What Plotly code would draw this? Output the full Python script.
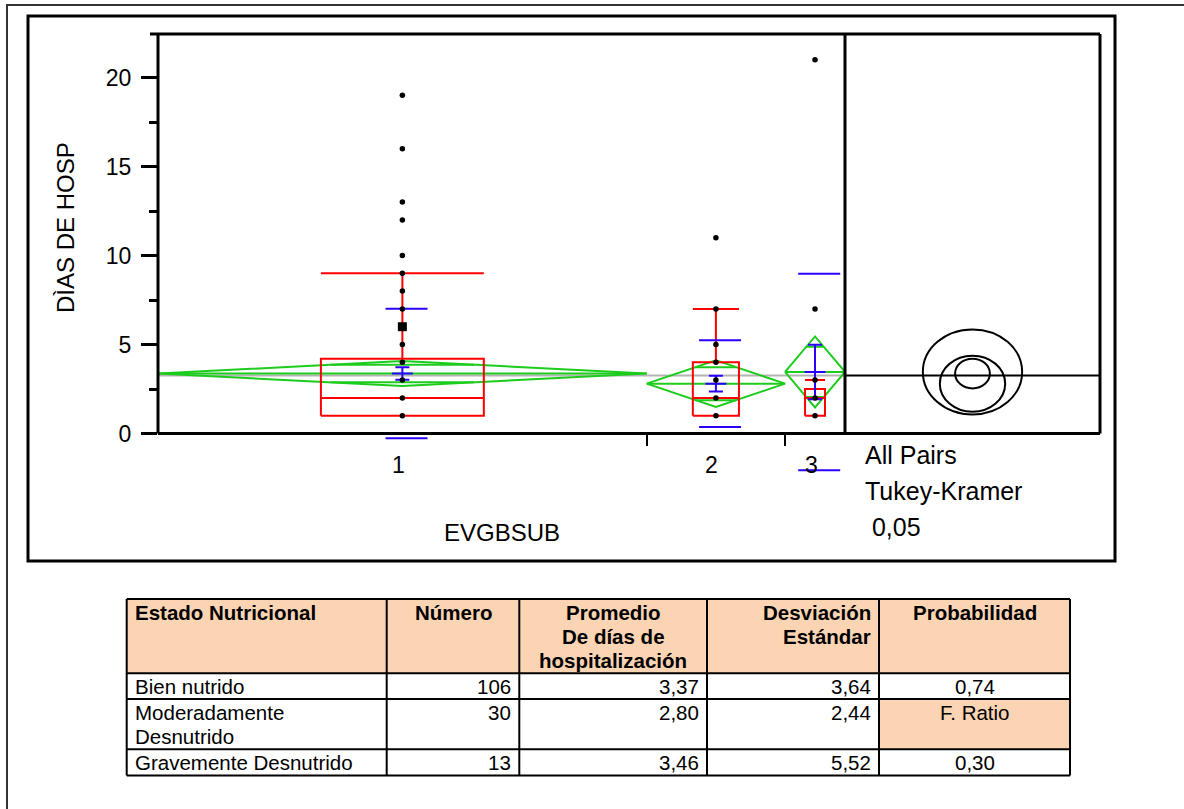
import math
import plotly.graph_objects as go

# ---------------- data ----------------
group_labels = ["1", "2", "3"]
group_n = [106, 30, 13]
group_mean = [3.37, 2.80, 3.46]
group_sd = [3.64, 2.44, 5.52]

points_g1 = [1, 2, 3, 4, 5, 6, 7, 8, 9, 10, 12, 13, 16, 19]
points_g2 = [1, 2, 3, 4, 5, 7, 11]
points_g3 = [1, 2, 3, 7, 21]
dense_value_g1 = [6]

box_q1 = [1.0, 1.0, 1.0]
box_median = [2.0, 2.0, 2.0]
box_q3 = [4.2, 4.0, 2.5]
whisker_hi = [9.0, 7.0, 3.0]

y_tick_vals = [0, 5, 10, 15, 20]
y_minor_vals = [2.5, 7.5, 12.5, 17.5]

x_title = "EVGBSUB"
y_title = "DÌAS DE HOSP"
alpha_text = ["All Pairs", "Tukey-Kramer", "\u00a00,05"]

t_crit = 1.976   # t(0.975, 146)
q_crit = 3.348   # Tukey studentized range q(0.05; 3, 146)

table_header = [["Estado Nutricional"], ["Número"],
                ["Promedio", "De días de", "hospitalización"],
                ["Desviación", "Estándar"], ["Probabilidad"]]
table_estado = [["Bien nutrido"], ["Moderadamente", "Desnutrido"], ["Gravemente Desnutrido"]]
table_numero = ["106", "30", "13"]
table_promedio = ["3,37", "2,80", "3,46"]
table_desv = ["3,64", "2,44", "5,52"]
table_prob = ["0,74", "F. Ratio", "0,30"]

# ---------------- derived statistics ----------------
N = sum(group_n)
starts, ends = [], []
acc = 0
for n in group_n:
    starts.append(acc)
    acc += n
    ends.append(acc)
centers = [(s + e) / 2 for s, e in zip(starts, ends)]
grand_mean = sum(n * m for n, m in zip(group_n, group_mean)) / N
dfree = N - len(group_n)
s_pooled = math.sqrt(sum((n - 1) * sd ** 2 for n, sd in zip(group_n, group_sd)) / dfree)
se_pooled = [s_pooled / math.sqrt(n) for n in group_n]
ci = [t_crit * se for se in se_pooled]
se_own = [sd / math.sqrt(n) for sd, n in zip(group_sd, group_n)]
r_circle = [q_crit / math.sqrt(2) * se for se in se_pooled]

# ---------------- layout constants ----------------
W, H = 1184, 809
PL, PR, PT, PB = 158, 845, 34, 433.5
PB_EXT = 495          # lower edge of the unclipped overlay axis (same scale)
PANEL_R = 1100
Y_UNIT = 17.8
Y_MAX = (PB - PT) / Y_UNIT
Y_EXT_MIN = -(PB_EXT - PB) / Y_UNIT
X2_UNIT = 20.8
X2_MAX = (PANEL_R - PR) / X2_UNIT
FONT = "Liberation Sans, Arial, sans-serif"
RED, GREEN, BLUE, GREY = "#ff0000", "#1ccc1c", "#2b00ff", "#b4b4b4"
PEACH = "#fbd4b4"
SD_SHIFT = 0.9   # blue SD marks drawn slightly right of the group centre


def px(x):
    return x / W


def py(y):
    return 1 - y / H


fig = go.Figure()

# grand mean line
fig.add_trace(go.Scatter(x=[0, N], y=[grand_mean, grand_mean], mode="lines",
                         line=dict(color=GREY, width=2), hoverinfo="skip"))

# means diamonds
gx, gy = [], []
for s, e, c, m, w in zip(starts, ends, centers, group_mean, ci):
    gx += [s, c, e, c, s, None, s, e, None]
    gy += [m, m + w, m, m - w, m, None, m, m, None]
    h = (1 - 1 / math.sqrt(2)) * (e - s) / 2
    for sign in (1, -1):
        gx += [c - h, c + h, None]
        gy += [m + sign * w / math.sqrt(2)] * 2 + [None]
fig.add_trace(go.Scatter(x=gx, y=gy, mode="lines", line=dict(color=GREEN, width=2),
                         hoverinfo="skip"))

# box plots
rx, ry = [], []
for s, e, c, q1, md, q3, wh in zip(starts, ends, centers, box_q1, box_median, box_q3, whisker_hi):
    b = (e - s) / 6
    rx += [c - b, c + b, c + b, c - b, c - b, None, c - b, c + b, None, c, c, None, c - b, c + b, None]
    ry += [q1, q1, q3, q3, q1, None, md, md, None, q3, wh, None, wh, wh, None]
fig.add_trace(go.Scatter(x=rx, y=ry, mode="lines", line=dict(color=RED, width=2),
                         hoverinfo="skip"))

# mean +- SE error bars
fig.add_trace(go.Scatter(x=centers, y=group_mean, mode="markers",
                         marker=dict(symbol="line-ew", size=15, color=BLUE,
                                     line=dict(color=BLUE, width=2)),
                         error_y=dict(type="data", array=se_own, color=BLUE, thickness=2, width=7),
                         hoverinfo="skip"))

# mean +- SD marks (on an overlay axis with identical scale that extends below the frame)
sd_x = [c + SD_SHIFT for c in centers]
fig.add_trace(go.Scatter(x=sd_x + sd_x,
                         y=[m + sd for m, sd in zip(group_mean, group_sd)] +
                           [m - sd for m, sd in zip(group_mean, group_sd)],
                         xaxis="x", yaxis="y3", mode="markers",
                         marker=dict(symbol="line-ew", size=30, color=BLUE,
                                     line=dict(color=BLUE, width=2)),
                         hoverinfo="skip"))

# data points
px_pts = [centers[0]] * len(points_g1) + [centers[1]] * len(points_g2) + [centers[2]] * len(points_g3)
py_pts = points_g1 + points_g2 + points_g3
fig.add_trace(go.Scatter(x=px_pts, y=py_pts, mode="markers", xaxis="x", yaxis="y3",
                         marker=dict(symbol="circle", size=5.5, color="black"), hoverinfo="skip"))
fig.add_trace(go.Scatter(x=[centers[0]] * len(dense_value_g1), y=dense_value_g1, mode="markers",
                         xaxis="x", yaxis="y3",
                         marker=dict(symbol="square", size=9, color="black"), hoverinfo="skip"))

# comparison circles panel
fig.add_trace(go.Scatter(x=[0, X2_MAX], y=[grand_mean, grand_mean], mode="lines",
                         xaxis="x2", yaxis="y", line=dict(color="black", width=2),
                         hoverinfo="skip"))

shapes = []
cx = X2_MAX / 2
for m, r in zip(group_mean, r_circle):
    shapes.append(dict(type="circle", xref="x2", yref="y", x0=cx - r, x1=cx + r,
                       y0=m - r, y1=m + r, line=dict(color="black", width=2)))


def pline(x0, y0, x1, y1, w=3, color="black"):
    shapes.append(dict(type="line", xref="paper", yref="paper", x0=px(x0), y0=py(y0),
                       x1=px(x1), y1=py(y1), line=dict(color=color, width=w)))


# outer frames
shapes.append(dict(type="rect", xref="paper", yref="paper", x0=px(7), y0=py(5), x1=px(1200),
                   y1=py(830), line=dict(color="#333333", width=2)))
shapes.append(dict(type="rect", xref="paper", yref="paper", x0=px(28), y0=py(16), x1=px(1115),
                   y1=py(561), line=dict(color="black", width=3)))
# plot frame
pline(150, PT, PANEL_R, PT)
pline(PL, PB, PANEL_R, PB)
pline(PL, PT, PL, PB)
pline(PR, PT, PR, PB)
pline(PANEL_R, PT, PANEL_R, PB)

# ---------------- table ----------------
col_x = [126.7, 386.7, 519.3, 707, 879, 1070]
row_y = [599, 673.3, 699, 749.3, 775.5]
shapes.append(dict(type="rect", xref="paper", yref="paper", x0=px(col_x[0]), x1=px(col_x[-1]),
                   y0=py(row_y[0]), y1=py(row_y[1]), fillcolor=PEACH, line=dict(width=0),
                   layer="below"))
shapes.append(dict(type="rect", xref="paper", yref="paper", x0=px(col_x[4]), x1=px(col_x[5]),
                   y0=py(row_y[2]), y1=py(row_y[3]), fillcolor=PEACH, line=dict(width=0),
                   layer="below"))
for yy in row_y:
    pline(col_x[0], yy, col_x[-1], yy, w=2)
for xx in col_x:
    pline(xx, row_y[0], xx, row_y[-1], w=2)

ann = []


def text(x, y, s, size=20, anchor="center", bold=False, xref="paper", xshift=0, angle=0):
    ann.append(dict(x=x if xref != "paper" else px(x), y=py(y), xref=xref, yref="paper",
                    text=("<b>%s</b>" % s) if bold else s, showarrow=False, xanchor=anchor,
                    yanchor="middle", xshift=xshift, textangle=angle,
                    font=dict(family=FONT, size=size, color="black")))


PAD = 6
LINE = 24
TS = 20.5
HY = 612
# header
for ln, s in enumerate(table_header[0]):
    text(col_x[0] + PAD, HY + ln * LINE, s, TS, "left", True)
for ln, s in enumerate(table_header[1]):
    text((col_x[1] + col_x[2]) / 2, HY + ln * LINE, s, TS, "center", True)
for ln, s in enumerate(table_header[2]):
    text((col_x[2] + col_x[3]) / 2, HY + ln * LINE, s, TS, "center", True)
for ln, s in enumerate(table_header[3]):
    text(col_x[4] - PAD, HY + ln * LINE, s, TS, "right", True)
for ln, s in enumerate(table_header[4]):
    text((col_x[4] + col_x[5]) / 2, HY + ln * LINE, s, TS, "center", True)
# body
row_first = [686, 712, 762.4]
for i in range(3):
    y0 = row_first[i]
    for ln, s in enumerate(table_estado[i]):
        text(col_x[0] + PAD, y0 + ln * LINE, s, TS, "left")
    text(col_x[2] - PAD, y0, table_numero[i], TS, "right")
    text(col_x[3] - PAD, y0, table_promedio[i], TS, "right")
    text(col_x[4] - PAD, y0, table_desv[i], TS, "right")
    text((col_x[4] + col_x[5]) / 2, y0, table_prob[i], TS, "center")

# chart texts
for c, lab in zip(centers, group_labels):
    text(c, 464.5, lab, 23, "center", xref="x", xshift=-4)
text((PL + PR) / 2, 532.7, x_title, 24)
text(65, 228, y_title, 24, angle=-90)
for s, yy, xx in zip(alpha_text, [455, 490.7, 526.7], [862.7, 862.7, 862.7]):
    text(xx, yy, s, 25, "left")

fig.update_layout(
    width=W, height=H, autosize=False,
    margin=dict(l=0, r=0, t=0, b=0, pad=0, autoexpand=False),
    paper_bgcolor="white", plot_bgcolor="rgba(0,0,0,0)", showlegend=False,
    shapes=shapes, annotations=ann,
    xaxis=dict(domain=[px(PL), px(PR)], range=[0, N], tickvals=ends[:-1], anchor="y",
               ticktext=["" for _ in ends[:-1]], ticks="outside", ticklen=11, tickwidth=2,
               tickcolor="black", showgrid=False, zeroline=False, showline=False,
               automargin=False, fixedrange=True),
    xaxis2=dict(domain=[px(PR), px(PANEL_R)], range=[0, X2_MAX], anchor="y", visible=False,
                automargin=False, fixedrange=True),
    yaxis=dict(domain=[py(PB), py(PT)], range=[0, Y_MAX], tickvals=y_tick_vals,
               ticks="outside", ticklen=16, tickwidth=3, tickcolor="black",
               tickfont=dict(family=FONT, size=23, color="black"), ticklabelstandoff=5,
               minor=dict(tickvals=y_minor_vals, ticks="outside", ticklen=8, tickwidth=3,
                          tickcolor="black", showgrid=False),
               showgrid=False, zeroline=False, showline=False, automargin=False,
               fixedrange=True),
    yaxis3=dict(domain=[py(PB_EXT), py(PT)], range=[Y_EXT_MIN, Y_MAX], visible=False,
                anchor="x", automargin=False, fixedrange=True),
)

fig.write_html("out.html", config={"displayModeBar": False},
               post_script="document.body.style.margin='0';document.body.style.overflow='hidden';")
